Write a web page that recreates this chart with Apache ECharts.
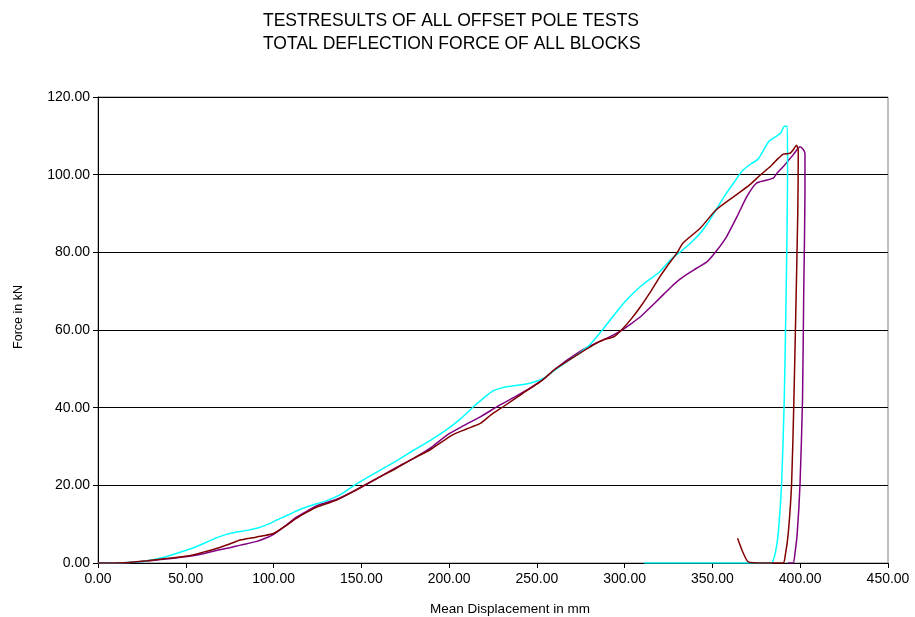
<!DOCTYPE html>
<html>
<head>
<meta charset="utf-8">
<script src="https://cdn.jsdelivr.net/npm/echarts@6/dist/echarts.min.js"></script>
<style>html,body{margin:0;padding:0;background:#fff}#c{width:915px;height:617px}</style>
</head>
<body>
<div id="c"></div>
<script>
var titleLines = ['TESTRESULTS OF ALL OFFSET POLE TESTS', 'TOTAL DEFLECTION FORCE OF ALL BLOCKS'];
var xName = 'Mean Displacement in mm';
var yName = 'Force in kN';

var cyanData = [[0,0],[10,0],[20,0.2],[28,0.6],[37,1.4],[45,2.5],[56,4.2],[62,5.4],[68,6.6],[74,7.5],[79,8.0],[85,8.4],[91,9.0],[97,10.0],[102,11.1],[108,12.3],[113,13.4],[120,14.6],[130,16.0],[138,17.6],[147,20.3],[158,23.2],[170,26.3],[180,29.1],[190,31.8],[200,34.8],[207,37.3],[214,40.3],[220,42.6],[225,44.3],[230,45.1],[238,45.7],[246,46.3],[254,47.6],[260,49.6],[267,51.8],[274,54.0],[280,56.1],[288,60.4],[297,65.6],[302,68.2],[309,71.2],[315,73.3],[320,75.0],[326,78.0],[333,80.6],[338,82.6],[343,84.9],[348,88.0],[352,90.9],[357,94.6],[362,97.8],[367,101.0],[372,102.8],[376,104.0],[379,106.2],[382,108.5],[386,109.8],[389,110.8],[391,112.5],[392.6,112.5],[392.8,100],[392,70],[390.9,42],[389.4,20.5],[387.5,7.7],[386,3],[384.5,0.5],[383.7,0],[360,0],[311,0]];

var maroonData = [[0,0],[15,0.05],[28,0.6],[40,1.2],[51,1.8],[60,2.8],[68,3.8],[75,4.9],[81,5.9],[88,6.5],[94,7.0],[100,7.6],[106,9.3],[113,11.5],[119,13.1],[125,14.5],[136,16.2],[147,18.8],[159,21.8],[170,24.4],[180,27.0],[189,29.1],[202,33.0],[210,34.5],[218,36.0],[224,38.2],[231,40.3],[242,43.7],[252,46.7],[261,50.1],[273,53.6],[282,56.1],[288,57.5],[294,58.3],[299,60.4],[304,63.0],[309,66.0],[315,70.0],[320,73.7],[324,76.3],[330,80.0],[333,82.3],[343,86.2],[352,90.9],[362,94.3],[371,97.3],[377,99.8],[383,102.1],[387.5,104.2],[390.4,105.3],[394.2,105.5],[396,106.4],[397.9,107.6],[398.9,106],[398.6,90],[397.5,65],[396.4,42],[395.1,20.5],[393.2,7.7],[391.5,2],[390.3,0],[380,0],[370.4,0.3],[367.6,2.5],[364.3,6.4]];

var purpleData = [[0,0],[15,0.05],[28,0.5],[40,1.1],[51,1.7],[60,2.4],[68,3.3],[75,3.9],[81,4.6],[90,5.5],[96,6.5],[100,7.4],[106,9.3],[113,11.8],[120,13.6],[125,14.8],[136,16.4],[147,18.8],[159,21.8],[170,24.6],[180,27.0],[189,29.5],[199,33.0],[208,35.3],[218,37.7],[229,40.7],[238,42.9],[246,45.0],[254,47.5],[261,50.1],[268,52.5],[276,54.9],[283,56.5],[290,57.9],[297,59.6],[303,61.4],[309,63.4],[315,66.0],[320,68.2],[326,70.9],[331,72.9],[335,74.2],[341,75.9],[347,77.6],[352,80.2],[358,84.0],[364,89.2],[369.5,94.3],[375,97.8],[380,98.5],[384.6,99.1],[387,100.5],[390.4,102.1],[393,103.5],[396,105.1],[398.8,106.8],[399.9,107.2],[401.5,106.6],[402.7,105.5],[402.7,95],[402,70],[401.3,42],[399.9,20.5],[398.3,7.7],[397,2.5],[396,0],[393,0]];

var chart = echarts.init(document.getElementById('c'), null, {renderer: 'canvas'});
var font = '"Liberation Sans", Arial, sans-serif';
function mk(name, data, color) {
  return {name: name, type: 'line', data: data, showSymbol: false, smooth: 0.2,
    lineStyle: {color: color, width: 1.5}, itemStyle: {color: color}, animation: false};
}
chart.setOption({
  backgroundColor: '#fff',
  animation: false,
  title: {text: titleLines.join('\n'), left: 258, top: 5,
    textStyle: {fontFamily: font, fontSize: 17.5, fontWeight: 'normal', color: '#000', lineHeight: 23}},
  grid: {left: 98, right: 27, top: 97, bottom: 54, show: true, borderColor: '#808080', borderWidth: 1,
    backgroundColor: '#fff', containLabel: false, outerBoundsMode: 'none'},
  xAxis: {type: 'value', min: 0, max: 450, interval: 50,
    name: xName, nameLocation: 'middle', nameGap: 39,
    nameTextStyle: {fontFamily: font, fontSize: 13.5, color: '#000', padding: [0, 0, 0, 34]},
    axisLine: {show: true, lineStyle: {color: '#000', width: 1}},
    axisTick: {show: true, inside: false, length: 5, lineStyle: {color: '#000'}},
    axisLabel: {fontFamily: font, fontSize: 14, color: '#000', margin: 9, formatter: function(v){return v.toFixed(2);}},
    splitLine: {show: false}},
  yAxis: {type: 'value', min: 0, max: 120, interval: 20,
    name: yName, nameLocation: 'middle', nameGap: 73, nameRotate: 90,
    nameTextStyle: {fontFamily: font, fontSize: 12.5, color: '#000', padding: [0, 0, 0, 26]},
    axisLine: {show: true, lineStyle: {color: '#000', width: 1}},
    axisTick: {show: true, inside: false, length: 5, lineStyle: {color: '#000'}},
    axisLabel: {fontFamily: font, fontSize: 14, color: '#000', margin: 8, formatter: function(v){return v.toFixed(2);}},
    splitLine: {show: true, lineStyle: {color: '#000', width: 1}}},
  series: [mk('purple', purpleData, '#800080'), mk('cyan', cyanData, '#00FFFF'), mk('maroon', maroonData, '#800000')]
});
</script>
</body>
</html>
